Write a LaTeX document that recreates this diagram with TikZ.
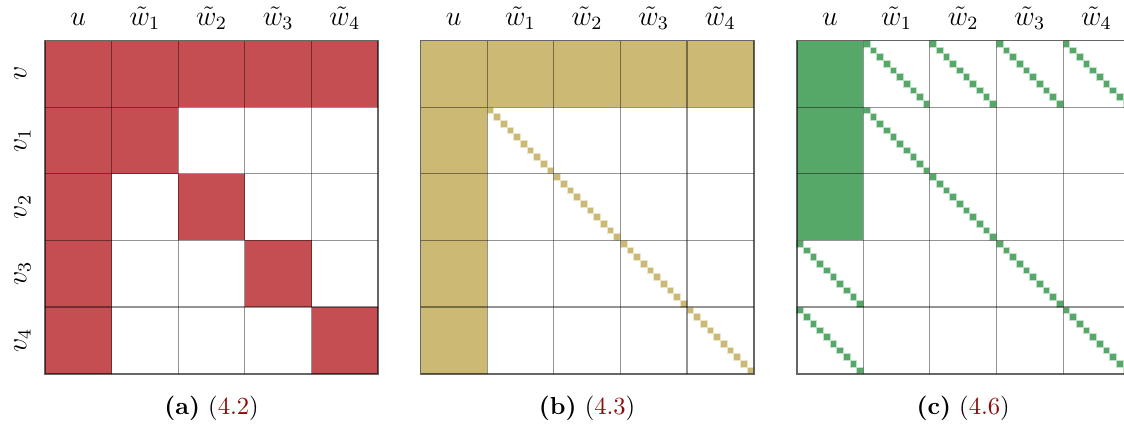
\documentclass[tikz,border=0pt]{standalone}
\definecolor{cred}{HTML}{C44E52}
\definecolor{cgold}{HTML}{CCB974}
\definecolor{cgreen}{HTML}{55A868}
\definecolor{capred}{HTML}{8B0A0A}
\tikzset{
  gridline/.style={draw=black, draw opacity=0.42, line width=0.5pt},
  border/.style={draw=black, draw opacity=0.6, line width=0.8pt},
  collabel/.style={anchor=base, inner sep=0pt, font=\large},
  rowlabel/.style={anchor=base, rotate=90, inner sep=0pt, font=\large},
  caption/.style={anchor=base, inner sep=0pt, font=\fontsize{10.5}{12}\selectfont},
}
% fill whole cell: #1 offset, #2 row, #3 col, #4 colour
\newcommand{\fillcell}[4]{\fill[#4] (#1+#3,5-#2-1) rectangle (#1+#3+1,5-#2);}
% staircase in cell
\newcommand{\stairs}[4]{%
  \foreach \k in {0,...,9}{%
    \fill[#4, draw=#4!35, line width=0.3pt] (#1+#3+0.1*\k,5-#2-0.1*\k-0.1) rectangle (#1+#3+0.1*\k+0.1,5-#2-0.1*\k);
  }}
\newcommand{\gridpanel}[2]{%
  \foreach \i in {1,...,4}{%
    \draw[gridline] (#1+\i,0) -- (#1+\i,5);
    \draw[gridline] (#1,\i) -- (#1+5,\i);
  }
  \draw[border] (#1,0) rectangle (#1+5,5);
  \foreach \t [count=\i from 0] in {u,\tilde{w}_1,\tilde{w}_2,\tilde{w}_3,\tilde{w}_4}{%
    \node[collabel] (col#2\i) at (#1+\i+0.5,5.23) {$\t$};
  }
}
\begin{document}
\begin{tikzpicture}[x=1cm,y=1cm]
\useasboundingbox (-0.675,-0.758) rectangle (16.194,5.608);
% ---- panel (a)
\def\oa{0}
\foreach \c in {0,...,4}{\fillcell{\oa}{0}{\c}{cred}}
\foreach \r in {1,...,4}{\fillcell{\oa}{\r}{0}{cred}\fillcell{\oa}{\r}{\r}{cred}}
\gridpanel{\oa}{a}
\foreach \t [count=\i from 0] in {v,v_1,v_2,v_3,v_4}{%
  \node[rowlabel] (row\i) at (\oa-0.28,4.5-\i) {$\t$};
}
\node[caption] (capa) at (\oa+2.5,-0.62) {\textbf{(a)} ({\color{capred}4.2})};
% ---- panel (b)
\def\ob{5.636}
\foreach \c in {0,...,4}{\fillcell{\ob}{0}{\c}{cgold}}
\foreach \r in {1,...,4}{\fillcell{\ob}{\r}{0}{cgold}\stairs{\ob}{\r}{\r}{cgold}}
\gridpanel{\ob}{b}
\node[caption] (capb) at (\ob+2.5,-0.62) {\textbf{(b)} ({\color{capred}4.3})};
% ---- panel (c)
\def\oc{11.28}
\foreach \r in {0,...,2}{\fillcell{\oc}{\r}{0}{cgreen}}
\foreach \r in {3,4}{\stairs{\oc}{\r}{0}{cgreen}}
\foreach \c in {1,...,4}{\stairs{\oc}{0}{\c}{cgreen}}
\foreach \r in {1,...,4}{\stairs{\oc}{\r}{\r}{cgreen}}
\gridpanel{\oc}{c}
\node[caption] (capc) at (\oc+2.5,-0.62) {\textbf{(c)} ({\color{capred}4.6})};
\end{tikzpicture}
\end{document}
